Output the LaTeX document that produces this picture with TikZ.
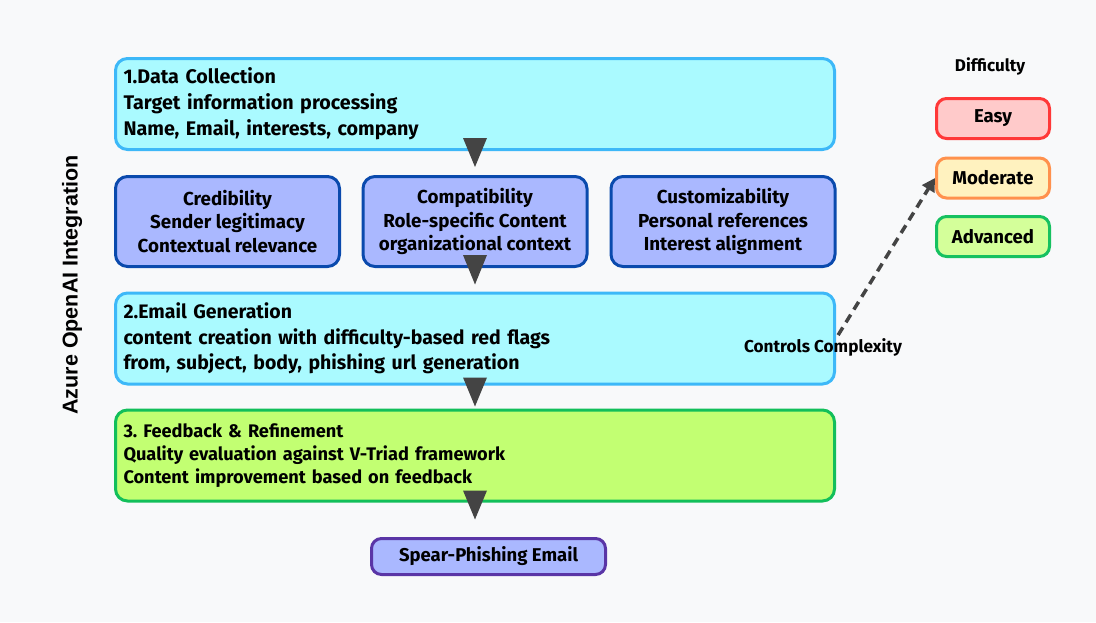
\documentclass[tikz,border=0pt]{standalone}
\usepackage{fontspec}
\setmainfont{Fira Sans}
\newfontfamily\azfont{Liberation Sans}
\usetikzlibrary{arrows.meta,calc}
\frenchspacing
\definecolor{bg}{HTML}{F8F9FA}
\definecolor{cyanfill}{HTML}{AAFAFF}
\definecolor{cyanline}{HTML}{3DB8F8}
\definecolor{perifill}{HTML}{AAB8FF}
\definecolor{periline}{HTML}{0A4AAD}
\definecolor{limefill}{HTML}{C2FF72}
\definecolor{limeline}{HTML}{12BF5A}
\definecolor{purpline}{HTML}{5A35A6}
\definecolor{easyfill}{HTML}{FFCACA}
\definecolor{easyline}{HTML}{FF3838}
\definecolor{modfill}{HTML}{FFF2BF}
\definecolor{modline}{HTML}{FF914D}
\definecolor{advfill}{HTML}{D4FF9A}
\definecolor{advline}{HTML}{16C160}
\definecolor{arrowc}{HTML}{444444}
\begin{document}
\begin{tikzpicture}[x=1pt,y=-1pt,
  mainbox/.style={draw, line width=3pt, rounded corners=12pt, minimum width=719pt,
    minimum height=91pt, text width=703pt, inner xsep=8pt, align=left,
    font=\bfseries\fontsize{19.7}{26}\selectfont},
  subbox/.style={draw=periline, fill=perifill, line width=3pt, rounded corners=12pt,
    minimum width=224pt, minimum height=90pt, align=center,
    font=\bfseries\fontsize{18.8}{23.5}\selectfont},
  diffbox/.style={line width=3pt, rounded corners=10pt, minimum width=113pt,
    minimum height=40pt, align=center, font=\bfseries\fontsize{18.6}{20}\selectfont},
  tri/.style={fill=arrowc},
  dasharrow/.style={draw=arrowc, line width=3.5pt, dash pattern=on 9pt off 6pt,
    -{Triangle[length=13pt,width=14pt]}}
]
\fill[bg] (0,0) rectangle (1096,622);
\useasboundingbox (0,0) rectangle (1096,622);

\node[mainbox, draw=cyanline, fill=cyanfill] (b1) at (475,104)
  {1.Data Collection\\Target information processing\\Name, Email, interests, company};
\node[subbox] (cA) at (227.5,221.5) {Credibility\\Sender legitimacy\\Contextual relevance};
\node[subbox] (cB) at (475,221.5) {Compatibility\\Role-specific Content\\organizational context};
\node[subbox] (cC) at (723,221.5) {Customizability\\Personal references\\Interest alignment};
\node[mainbox, draw=cyanline, fill=cyanfill, font=\bfseries\fontsize{19.5}{25.5}\selectfont] (b2) at (475,338.5)
  {2.Email Generation\\content creation with difficulty-based red flags\\from, subject, body, phishing url generation};
\node[mainbox, draw=limeline, fill=limefill, font=\bfseries\fontsize{18.2}{23}\selectfont] (b3) at (475,455.5)
  {3. Feedback \& Refinement\\Quality evaluation against V-Triad framework\\Content improvement based on feedback};
\node[draw=purpline, fill=perifill, line width=3pt, rounded corners=10pt, minimum width=234pt,
  minimum height=36pt, font=\bfseries\fontsize{18.5}{20}\selectfont] (sp) at (488.5,556.5) {Spear-Phishing Email};

\node[font=\bfseries\fontsize{17}{18}\selectfont] (dt) at (990,66) {Difficulty};
\node[diffbox, draw=easyline, fill=easyfill] (easy) at (993,118.5) {Easy};
\node[diffbox, draw=modline, fill=modfill] (mod) at (993,178) {Moderate};
\node[diffbox, draw=advline, fill=advfill] (adv) at (993,236.5) {Advanced};

\node[rotate=90, font=\azfont\bfseries\fontsize{21.5}{24}\selectfont] (az) at (72,285) {Azure OpenAI Integration};

% connectors (arrowheads)
\fill[tri] ($(b1.south)+(-12,-13)$) -- ($(b1.south)+(12,-13)$) -- ($(cB.north)+(0,-8)$) -- cycle;
\fill[tri] ($(cB.south)+(-12,-13)$) -- ($(cB.south)+(12,-13)$) -- ($(b2.north)+(0,-7)$) -- cycle;
\fill[tri] ($(b2.south)+(-12,-8)$) -- ($(b2.south)+(12,-8)$) -- ($(b3.north)+(0,-2)$) -- cycle;
\fill[tri] ($(b3.south)+(-12,-12)$) -- ($(b3.south)+(12,-12)$) -- ($(b3.south)+(0,17)$) -- cycle;

\draw[dasharrow, shorten <=4pt] (b2.east) -- (mod.west);
\node[font=\bfseries\fontsize{17.2}{18}\selectfont] (cc) at (823,347) {Controls Complexity};
\end{tikzpicture}
\end{document}
